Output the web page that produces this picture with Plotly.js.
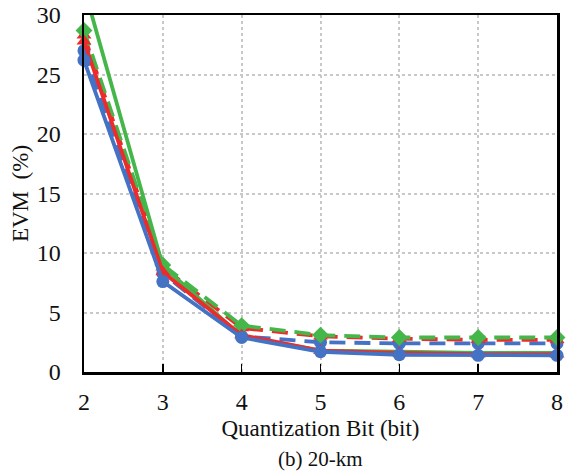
<!DOCTYPE html>
<html>
<head>
<meta charset="utf-8">
<script src="https://cdn.plot.ly/plotly-3.0.1.min.js"></script>
<style>html,body{margin:0;padding:0;background:#fff;}#chart{width:566px;height:476px;}</style>
</head>
<body>
<div id="chart"></div>
<script>
const bits = [2, 3, 4, 5, 6, 7, 8];
const blueSolid  = [26.2, 7.6, 2.9, 1.7, 1.45, 1.4, 1.4];
const blueDashed = [27.0, 8.3, 3.0, 2.5, 2.4, 2.4, 2.4];
const redSolid   = [27.8, 8.4, 3.1, 1.8, 1.6, 1.5, 1.5];
const redDashed  = [28.3, 8.8, 3.7, 3.0, 2.8, 2.7, 2.7];
const greenSolid = [32.3, 8.9, 3.0, 1.8, 1.7, 1.6, 1.6];
const greenDashed= [28.7, 9.0, 3.9, 3.1, 2.9, 2.9, 2.9];
const xTitle = "Quantization Bit (bit)";
const yTitle = "EVM&nbsp;&nbsp;(%)";
const caption = "(b) 20-km";

const BLUE = "#4472C4", RED = "#EE2B2B", GREEN = "#45B649";
const DASH = "16px,9px";
function tr(y, color, dash, symbol, mode) {
  return {
    x: bits, y: y, type: "scatter", mode: mode || "lines+markers",
    line: {color: color, width: 3.8, dash: dash},
    marker: {color: color, size: 13, symbol: symbol},
    cliponaxis: false, showlegend: false
  };
}
const data = [
  tr(blueDashed, BLUE, DASH, "circle"),
  tr(redDashed, RED, DASH, "triangle-up"),
  tr(greenDashed, GREEN, DASH, "diamond"),
  tr(greenSolid, GREEN, "solid", "diamond", "lines"),
  tr(redSolid, RED, "solid", "triangle-up"),
  tr(blueSolid, BLUE, "solid", "circle")
];
const layout = {
  width: 566, height: 476,
  margin: {l: 84, r: 9, t: 15, b: 104},
  paper_bgcolor: "#fff", plot_bgcolor: "#fff",
  font: {family: "Liberation Serif, Times New Roman, serif", color: "#111", size: 20},
  xaxis: {
    range: [2, 8], tickvals: bits, ticktext: bits.map(String),
    showgrid: true, gridcolor: "#c8c8c8", griddash: "dot", gridwidth: 2,
    showline: true, linecolor: "#000", linewidth: 2.5, mirror: true,
    ticks: "inside", ticklen: 8, tickwidth: 1.5, tickcolor: "#000",
    ticklabelstandoff: 7, zeroline: false,
    tickfont: {size: 24},
    title: {text: xTitle, font: {size: 23}, standoff: 6}
  },
  yaxis: {
    range: [0, 30], tickvals: [0, 5, 10, 15, 20, 25, 30],
    showgrid: true, gridcolor: "#c8c8c8", griddash: "dot", gridwidth: 2,
    showline: true, linecolor: "#000", linewidth: 2.5, mirror: true,
    ticks: "", ticklabelstandoff: 16, zeroline: false,
    tickfont: {size: 24},
    title: {text: yTitle, font: {size: 23}, standoff: 2}
  },
  annotations: [{
    text: caption, xref: "paper", yref: "paper", x: 0.5, y: -0.245,
    xanchor: "center", yanchor: "middle", showarrow: false,
    font: {size: 21}
  }]
};
Plotly.newPlot("chart", data, layout, {displayModeBar: false, staticPlot: true});
</script>
</body>
</html>
